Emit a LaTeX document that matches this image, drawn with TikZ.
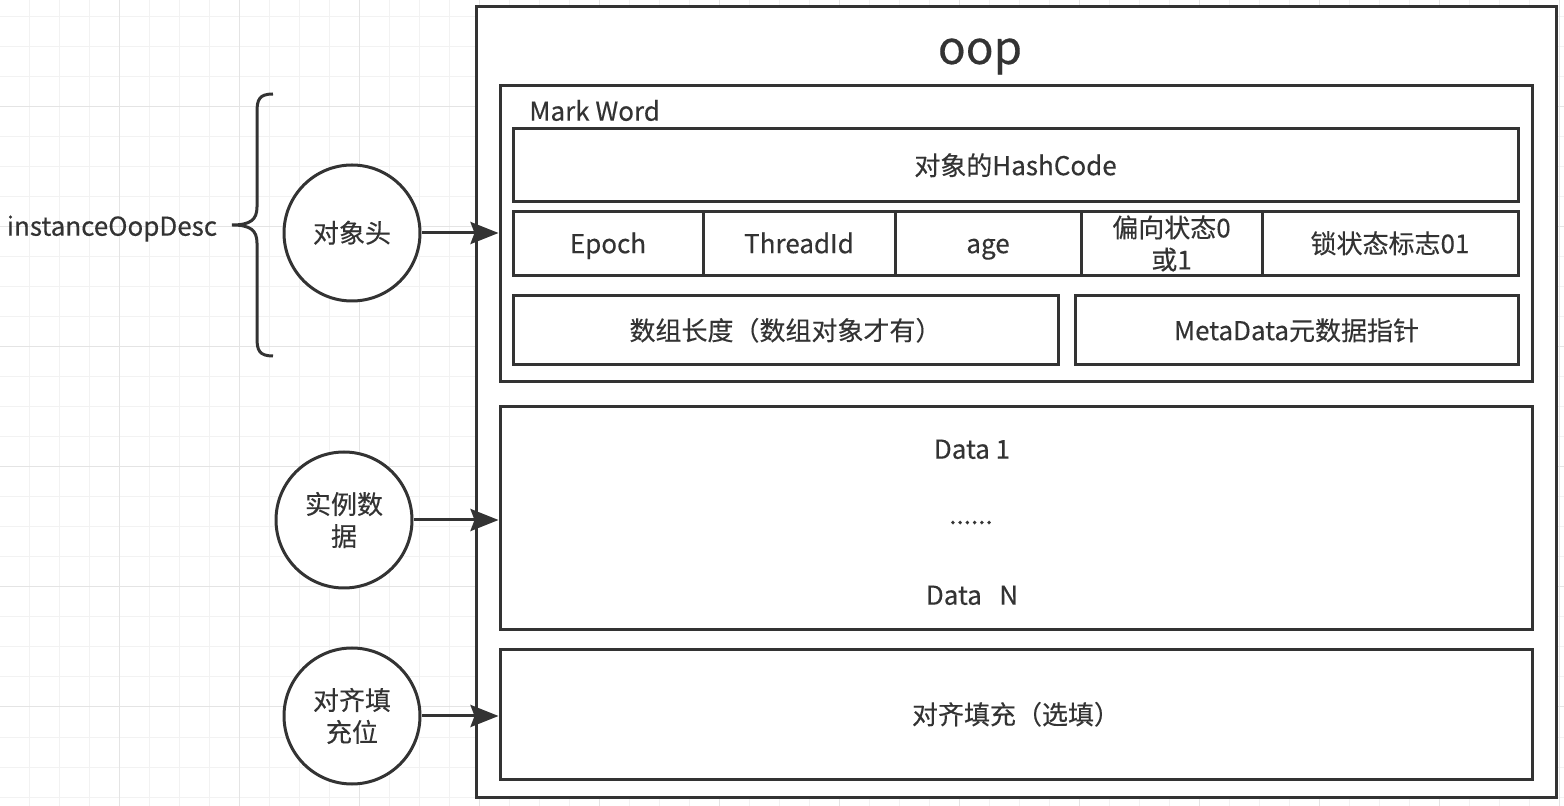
\documentclass[tikz,border=0pt]{standalone}
\usepackage{fontspec}
\setmainfont{Noto Sans CJK SC}[FakeBold=0.3]
\usetikzlibrary{arrows.meta}
\definecolor{ink}{HTML}{333333}
\definecolor{gridminor}{HTML}{F2F2F2}
\definecolor{gridmajor}{HTML}{E4E4E4}
\begin{document}
\begin{tikzpicture}[x=0.5pt,y=-0.5pt]
        % Styles
        \tikzstyle{box}=[draw=ink,line width=1.5pt,fill=white,inner sep=0pt,text=ink,font=\fontsize{13}{16}\selectfont,align=center]
        \tikzstyle{one line}=[text height=1em,text depth=0.03em]
        \tikzstyle{part}=[circle,draw=ink,line width=1.5pt,fill=white,minimum size=68pt,inner sep=0pt,text=ink,font=\fontsize{13}{16}\selectfont,align=center]
        \tikzstyle{label text}=[text=ink,font=\fontsize{13}{16}\selectfont,inner sep=0pt]
        \tikzstyle{pointer}=[draw=ink,line width=1.5pt,-{Stealth[length=14pt,width=11pt,inset=2pt]}]
        \tikzstyle{minor line}=[draw=gridminor,line width=0.5pt]
        \tikzstyle{major line}=[draw=gridmajor,line width=0.5pt]
        \useasboundingbox (0,0) rectangle (1564,806);
        %grid
        \foreach \gx in {29,59,...,1559} \draw[minor line] (\gx,0) -- (\gx,806);
        \foreach \gy in {17,47,...,797} \draw[minor line] (0,\gy) -- (1564,\gy);
        \foreach \gx in {119,239,...,1559} \draw[major line] (\gx,0) -- (\gx,806);
        \foreach \gy in {107,227,...,787} \draw[major line] (0,\gy) -- (1564,\gy);
        %the oop
        \node[box,minimum width=540pt,minimum height=395pt] (oop) at (1016,402) {};
        \node[label text,font=\fontsize{23}{26}\selectfont,anchor=base] (title) at (980,64) {oop};
        %mark word
        \node[box,minimum width=516pt,minimum height=148pt] (markword) at (1016,234) {};
        \node[label text,one line,anchor=west] (mwlabel) at (529,111) {Mark Word};
        \node[box,one line,minimum width=502.5pt,minimum height=36.5pt] (hash) at (1015.5,165.5) {对象的HashCode};
        \node[box,one line,minimum width=95pt,minimum height=32pt] (epoch) at (608,243.5) {Epoch};
        \node[box,one line,minimum width=96pt,minimum height=32pt] (thread) at (799,243.5) {ThreadId};
        \node[box,one line,minimum width=93pt,minimum height=32pt] (age) at (988,243.5) {age};
        \node[box,minimum width=90.5pt,minimum height=32pt] (biased) at (1171.5,243.5) {偏向状态0\\或1};
        \node[box,one line,minimum width=128pt,minimum height=32pt] (lockflag) at (1390,243.5) {锁状态标志01};
        \node[box,one line,minimum width=272.5pt,minimum height=34.5pt] (arraylen) at (785.5,330.5) {数组长度（数组对象才有）};
        \node[box,one line,minimum width=221.5pt,minimum height=34.5pt] (metadata) at (1296.5,330.5) {MetaData元数据指针};
        %instance data
        \node[box,minimum width=516pt,minimum height=111.5pt] (databox) at (1016,518.5) {};
        \node[label text,one line] (first) at (972,449) {Data 1};
        \node[label text,anchor=base] (dots) at (971,524) {......};
        \node[label text,one line] (last) at (972,595) {Data~~~N};
        %padding
        \node[box,one line,minimum width=516pt,minimum height=64.5pt] (padbox) at (1016,714.5) {对齐填充（选填）};
        %circles
        \node[part,one line] (head) at (352,233) {对象头};
        \node[part] (inst) at (344,520) {实例数\\据};
        \node[part] (pad) at (352,716) {对齐填\\充位};
        \draw[pointer] (head) -- (head -| markword.west);
        \draw[pointer] (inst) -- (inst -| databox.west);
        \draw[pointer] (pad) -- (pad -| padbox.west);
        %brace
        \draw[ink,line width=1.5pt] (273,94) .. controls (259,94) and (257,100) .. (257,112) -- (257,207)
            .. controls (257,220) and (250,225) .. (232,225) .. controls (250,225) and (257,230) .. (257,243)
            -- (257,338) .. controls (257,350) and (259,356) .. (273,356);
        \node[label text,one line] (desc) at (112,226) {instanceOopDesc};
\end{tikzpicture}
\end{document}
